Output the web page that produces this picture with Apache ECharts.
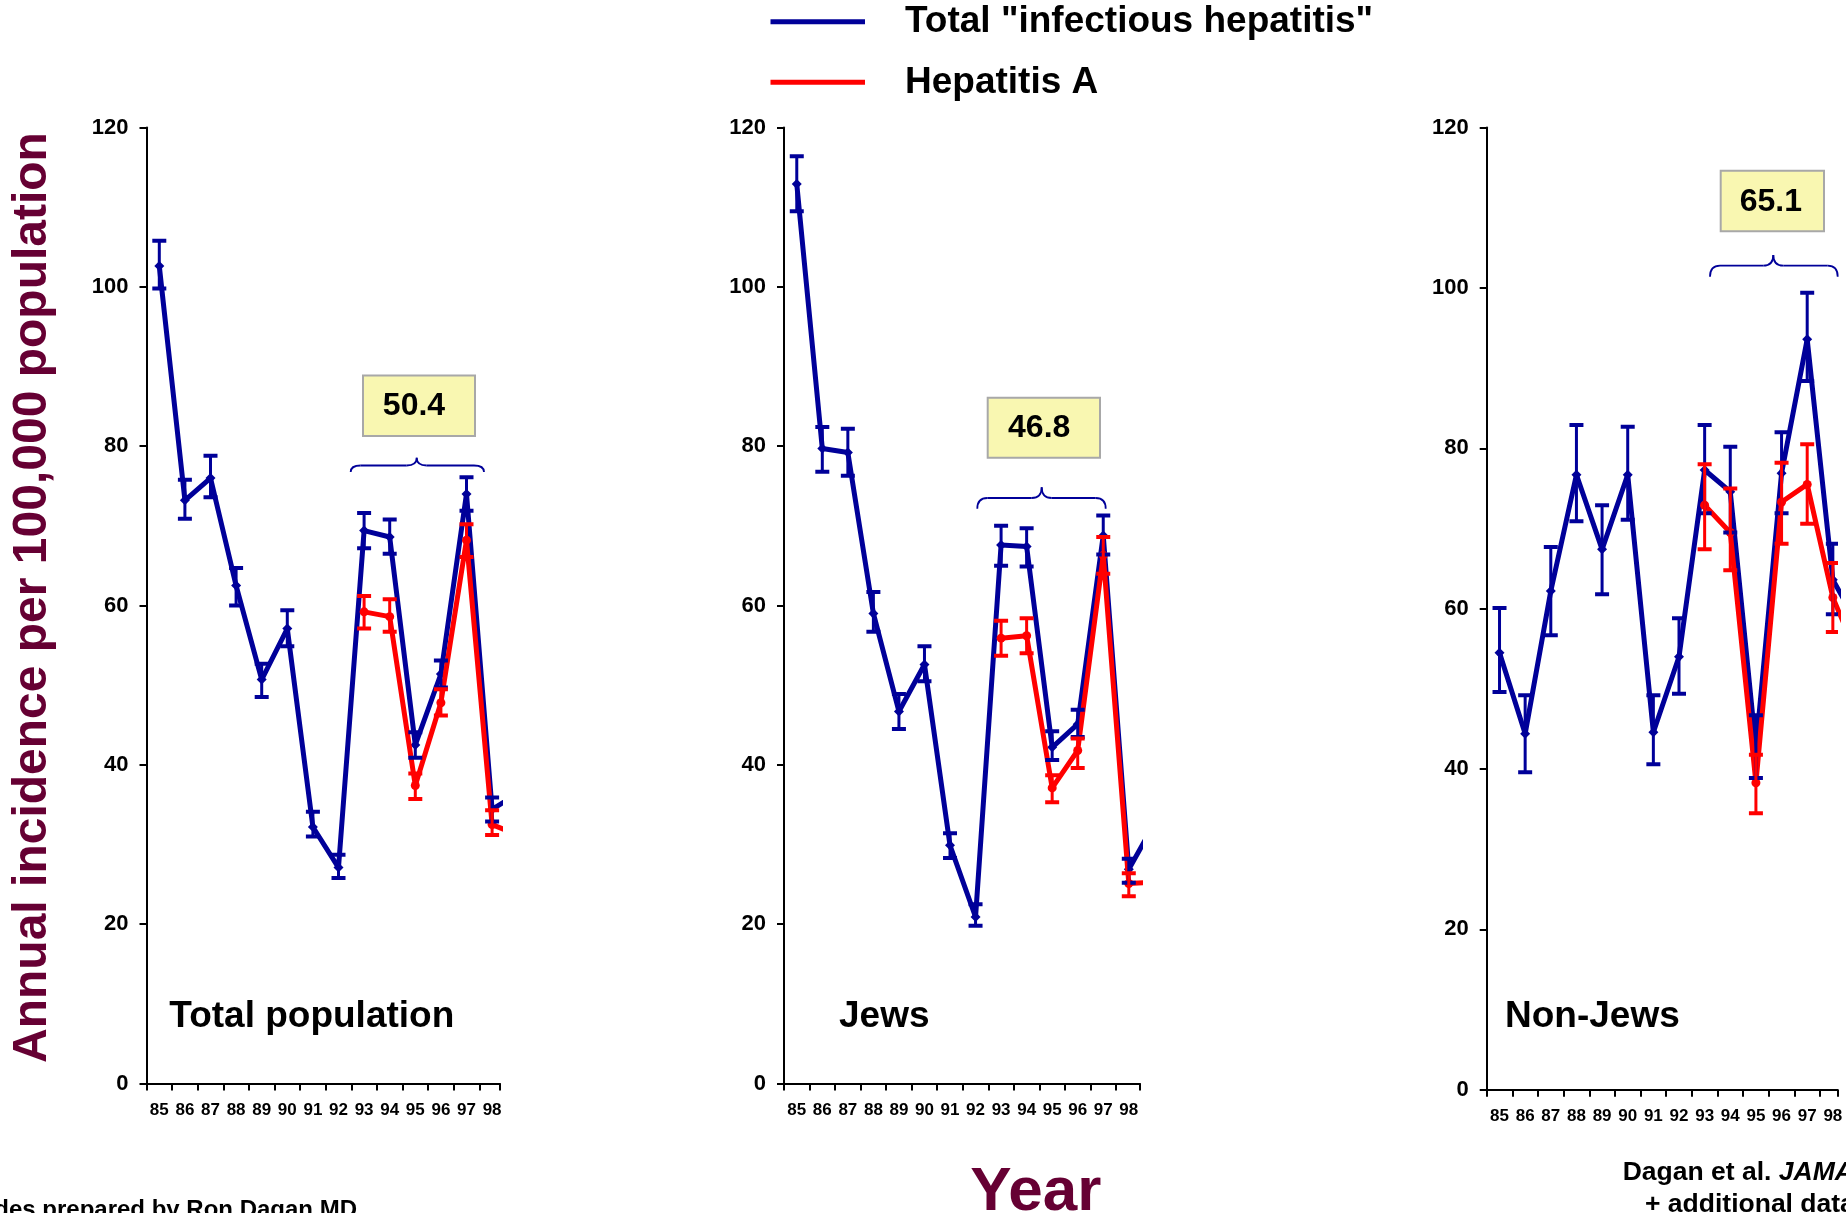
<!DOCTYPE html>
<html>
<head>
<meta charset="utf-8">
<script src="https://cdn.jsdelivr.net/npm/echarts@6/dist/echarts.min.js"></script>
<style>
html,body{margin:0;padding:0;background:#fff;}
#chart{width:1846px;height:1213px;}
</style>
</head>
<body>
<div id="chart"></div>
<script>
// ---------------- DATA ----------------
const years = ['85','86','87','88','89','90','91','92','93','94','95','96','97','98'];
const offChartYear = '99'; // only the start of the segment towards it is visible

// Total population
const totalPopTotal     = [102.6, 73.2, 76.0, 62.5, 50.7, 57.1, 32.2, 27.1, 69.4, 68.6, 42.5, 51.4, 74.0, 34.4, 36.4];
const totalPopTotalLow  = [ 99.8, 70.9, 73.6, 60.0, 48.5, 54.9, 31.0, 25.8, 67.2, 66.5, 40.9, 49.7, 71.9, 32.9];
const totalPopTotalHigh = [105.8, 75.8, 78.8, 64.7, 52.7, 59.4, 34.1, 28.7, 71.6, 70.8, 44.1, 53.1, 76.1, 35.9];
const totalPopHepA      = [null, null, null, null, null, null, null, null, 59.2, 58.6, 37.4, 47.8, 68.2, 32.5, 31.2];
const totalPopHepALow   = [null, null, null, null, null, null, null, null, 57.1, 56.7, 35.7, 46.2, 66.1, 31.2];
const totalPopHepAHigh  = [null, null, null, null, null, null, null, null, 61.2, 60.8, 38.9, 49.5, 70.2, 34.3];

// Jews
const jewsTotal     = [112.9, 79.7, 79.2, 59.0, 46.7, 52.6, 29.9, 20.9, 67.6, 67.4, 42.2, 45.1, 68.8, 26.9, 32.6];
const jewsTotalLow  = [109.5, 76.8, 76.3, 56.7, 44.5, 50.5, 28.3, 19.8, 65.0, 64.9, 40.6, 43.5, 66.4, 25.2];
const jewsTotalHigh = [116.4, 82.4, 82.2, 61.7, 48.9, 54.9, 31.4, 22.5, 70.0, 69.7, 44.2, 46.9, 71.3, 28.2];
const jewsHepA      = [null, null, null, null, null, null, null, null, 55.9, 56.2, 37.1, 41.8, 66.3, 25.1, 25.3];
const jewsHepALow   = [null, null, null, null, null, null, null, null, 53.7, 54.0, 35.3, 39.6, 64.0, 23.5];
const jewsHepAHigh  = [null, null, null, null, null, null, null, null, 58.1, 58.4, 38.7, 43.3, 68.6, 26.4];

// Non-Jews
const nonJewsTotal     = [54.5, 44.4, 62.2, 76.7, 67.4, 76.7, 44.6, 54.0, 77.3, 74.6, 42.6, 76.9, 93.6, 63.6, 57.9];
const nonJewsTotalLow  = [49.6, 39.6, 56.7, 70.9, 61.8, 71.1, 40.6, 49.4, 71.9, 69.5, 38.9, 71.9, 88.4, 59.3];
const nonJewsTotalHigh = [60.1, 49.2, 67.7, 82.9, 72.9, 82.7, 49.2, 58.8, 82.9, 80.2, 46.7, 82.0, 99.4, 68.1];
const nonJewsHepA      = [null, null, null, null, null, null, null, null, 72.9, 69.5, 38.3, 73.3, 75.5, 61.4, 53.8];
const nonJewsHepALow   = [null, null, null, null, null, null, null, null, 67.4, 64.8, 34.5, 68.1, 70.6, 57.1];
const nonJewsHepAHigh  = [null, null, null, null, null, null, null, null, 78.0, 75.0, 41.8, 78.2, 80.5, 65.7];

const yTicks = [0, 20, 40, 60, 80, 100, 120];
const panelTitles = ['Total population', 'Jews', 'Non-Jews'];
const periodAverages = ['50.4', '46.8', '65.1'];
const seriesNames = ['Total "infectious hepatitis"', 'Hepatitis A'];

// ---------------- LAYOUT / STYLE ----------------
const FONT = '"Liberation Sans", Arial, Helvetica, sans-serif';
const NAVY = '#000099';
const RED = '#FF0000';
const MAROON = '#660033';

const panelData = [
  {total: totalPopTotal, totalLo: totalPopTotalLow, totalHi: totalPopTotalHigh, hepA: totalPopHepA, hepALo: totalPopHepALow, hepAHi: totalPopHepAHigh},
  {total: jewsTotal, totalLo: jewsTotalLow, totalHi: jewsTotalHigh, hepA: jewsHepA, hepALo: jewsHepALow, hepAHi: jewsHepAHigh},
  {total: nonJewsTotal, totalLo: nonJewsTotalLow, totalHi: nonJewsTotalHigh, hepA: nonJewsHepA, hepALo: nonJewsHepALow, hepAHi: nonJewsHepAHigh}
];
// axis geometry (pixels) of each panel; step = width of one year
const panelLayout = [
  {left: 146.5, top: 127.5, height: 956, width: 353.5, step: 25.6,
   title: {x: 169.3, y: 1017},
   box: {x: 363, y: 375.5, w: 112, h: 60.5, tx: 414, ty: 406.5},
   brace: {x0: 350.7, x1: 484, xc: 416.7, yEnd: 472, yH: 465.5, yPeak: 457.8}},
  {left: 784, top: 127.5, height: 956, width: 356, step: 25.54,
   title: {x: 839, y: 1017},
   box: {x: 987.7, y: 397.7, w: 112.3, h: 60.1, tx: 1039.2, ty: 428.4},
   brace: {x0: 977.3, x1: 1105.7, xc: 1041.7, yEnd: 508.7, yH: 498, yPeak: 487.3}},
  {left: 1486.7, top: 127.6, height: 962.2, width: 351, step: 25.64,
   title: {x: 1505, y: 1017},
   box: {x: 1720.7, y: 170.8, w: 103.3, h: 60.5, tx: 1770.8, ty: 202.2},
   brace: {x0: 1710, x1: 1837.7, xc: 1773.3, yEnd: 276.8, yH: 265.7, yPeak: 255}}
];

function linePoints(vals) {
  const out = [];
  vals.forEach((v, i) => { if (v != null) out.push([i + 0.5, v]); });
  return out;
}
function errPoints(lo, hi) {
  const out = [];
  lo.forEach((l, i) => { if (l != null && hi[i] != null) out.push([i + 0.5, l, hi[i]]); });
  return out;
}
function errRender(color) {
  return function (params, api) {
    const x = api.value(0), lo = api.value(1), hi = api.value(2);
    const a = api.coord([x, lo]), b = api.coord([x, hi]);
    const hw = 7;
    return {
      type: 'group',
      children: [
        {type: 'line', shape: {x1: a[0], y1: a[1], x2: b[0], y2: b[1]}, style: {stroke: color, lineWidth: 3}},
        {type: 'line', shape: {x1: a[0] - hw, y1: a[1], x2: a[0] + hw, y2: a[1]}, style: {stroke: color, lineWidth: 4}},
        {type: 'line', shape: {x1: b[0] - hw, y1: b[1], x2: b[0] + hw, y2: b[1]}, style: {stroke: color, lineWidth: 4}}
      ]
    };
  };
}
function braceGroup(b) {
  const r = 10;
  const st = {fill: 'none', stroke: NAVY, lineWidth: 1.8};
  const q = (x1, y1, cx, cy, x2, y2) => ({type: 'bezierCurve', shape: {x1: x1, y1: y1, cpx1: cx, cpy1: cy, x2: x2, y2: y2}, style: st});
  const l = (x1, y1, x2, y2) => ({type: 'line', shape: {x1: x1, y1: y1, x2: x2, y2: y2}, style: st});
  return {type: 'group', children: [
    q(b.x0, b.yEnd, b.x0, b.yH, b.x0 + r, b.yH),
    l(b.x0 + r, b.yH, b.xc - r, b.yH),
    q(b.xc - r, b.yH, b.xc, b.yH, b.xc, b.yPeak),
    q(b.xc, b.yPeak, b.xc, b.yH, b.xc + r, b.yH),
    l(b.xc + r, b.yH, b.x1 - r, b.yH),
    q(b.x1 - r, b.yH, b.x1, b.yH, b.x1, b.yEnd)
  ]};
}

const grids = [], xAxes = [], yAxes = [], series = [], graphics = [];
const axisLineStyle = {color: '#000', width: 2};

panelLayout.forEach((L, p) => {
  const D = panelData[p];
  const gData = 2 * p, gLab = 2 * p + 1;
  grids.push({left: L.left, top: L.top, width: L.width, height: L.height});
  grids.push({left: L.left, top: L.top, width: L.step * years.length, height: L.height});

  xAxes.push({
    gridIndex: gData, type: 'value', min: 0, max: L.width / L.step, interval: 1,
    axisLine: {show: true, onZero: false, lineStyle: axisLineStyle},
    axisTick: {show: true, length: 7, lineStyle: {color: '#000', width: 2}},
    axisLabel: {show: false}, splitLine: {show: false}
  });
  xAxes.push({
    gridIndex: gLab, type: 'category', data: years, boundaryGap: true,
    axisLine: {show: false}, axisTick: {show: false}, splitLine: {show: false},
    axisLabel: {show: true, interval: 0, margin: 18, fontSize: 17, fontWeight: 'bold', color: '#000', fontFamily: FONT}
  });
  yAxes.push({
    gridIndex: gData, type: 'value', min: yTicks[0], max: yTicks[yTicks.length - 1], interval: yTicks[1] - yTicks[0],
    axisLine: {show: true, lineStyle: axisLineStyle},
    axisTick: {show: true, length: 7, lineStyle: {color: '#000', width: 2}},
    axisLabel: {margin: 18, fontSize: 22, fontWeight: 'bold', color: '#000', fontFamily: FONT},
    splitLine: {show: false}
  });
  yAxes.push({gridIndex: gLab, type: 'value', show: false, min: 0, max: 1});

  series.push({
    name: seriesNames[0], type: 'line', xAxisIndex: gData, yAxisIndex: gData,
    data: linePoints(D.total), clip: true, z: 3,
    symbol: 'diamond', symbolSize: 10,
    lineStyle: {color: NAVY, width: 5}, itemStyle: {color: NAVY},
    emphasis: {disabled: true}, animation: false
  });
  series.push({
    name: seriesNames[1], type: 'line', xAxisIndex: gData, yAxisIndex: gData,
    data: linePoints(D.hepA), clip: true, z: 4,
    symbol: 'circle', symbolSize: 9,
    lineStyle: {color: RED, width: 5}, itemStyle: {color: RED},
    emphasis: {disabled: true}, animation: false
  });
  series.push({
    name: seriesNames[0], type: 'custom', xAxisIndex: gData, yAxisIndex: gData,
    data: errPoints(D.totalLo, D.totalHi), encode: {x: 0, y: [1, 2]},
    renderItem: errRender(NAVY), itemStyle: {color: NAVY}, clip: true, z: 5, animation: false
  });
  series.push({
    name: seriesNames[1], type: 'custom', xAxisIndex: gData, yAxisIndex: gData,
    data: errPoints(D.hepALo, D.hepAHi), encode: {x: 0, y: [1, 2]},
    renderItem: errRender(RED), itemStyle: {color: RED}, clip: true, z: 6, animation: false
  });

  graphics.push({type: 'text', x: L.title.x, y: L.title.y,
    style: {text: panelTitles[p], fill: '#000', font: 'bold 37px ' + FONT, align: 'left', verticalAlign: 'middle'}});
  graphics.push({type: 'rect', shape: {x: L.box.x, y: L.box.y, width: L.box.w, height: L.box.h},
    style: {fill: '#F9F7B1', stroke: '#A8A8A8', lineWidth: 2}});
  graphics.push({type: 'text', x: L.box.tx, y: L.box.ty,
    style: {text: periodAverages[p], fill: '#000', font: 'bold 32px ' + FONT, align: 'center', verticalAlign: 'middle'}});
  graphics.push(braceGroup(L.brace));
});

graphics.push({type: 'text', x: 33, y: 597.5, rotation: Math.PI / 2,
  style: {text: 'Annual incidence per 100,000 population', fill: MAROON, font: 'bold 48px ' + FONT, align: 'center', verticalAlign: 'middle'}});
graphics.push({type: 'text', x: 1035.8, y: 1193,
  style: {text: 'Year', fill: MAROON, font: 'bold 62px ' + FONT, align: 'center', verticalAlign: 'middle'}});
graphics.push({type: 'text', x: 357, y: 1210.3,
  style: {text: 'Slides prepared by Ron Dagan MD', fill: '#000', font: 'bold 24px ' + FONT, align: 'right', verticalAlign: 'middle'}});
graphics.push({type: 'text', x: 1622.7, y: 1173,
  style: {text: '{a|Dagan et al. }{b|JAMA}', align: 'left', verticalAlign: 'middle',
    rich: {a: {fill: '#000', font: 'bold 26.5px ' + FONT}, b: {fill: '#000', font: 'italic bold 26.5px ' + FONT}}}});
graphics.push({type: 'text', x: 1645, y: 1205,
  style: {text: '+ additional data', fill: '#000', font: 'bold 26.5px ' + FONT, align: 'left', verticalAlign: 'middle'}});

const chart = echarts.init(document.getElementById('chart'), null, {renderer: 'canvas'});
chart.setOption({
  backgroundColor: '#fff',
  animation: false,
  legend: {
    data: seriesNames, orient: 'vertical', left: 770.5, top: 1.7, padding: 0,
    icon: 'rect', itemWidth: 94.5, itemHeight: 5, itemGap: 20.6,
    selectedMode: false,
    textStyle: {fontSize: 37, fontWeight: 'bold', color: '#000', fontFamily: FONT, lineHeight: 40, padding: [0, 0, 0, 35]}
  },
  grid: grids,
  xAxis: xAxes,
  yAxis: yAxes,
  series: series,
  graphic: graphics
});
</script>
</body>
</html>
